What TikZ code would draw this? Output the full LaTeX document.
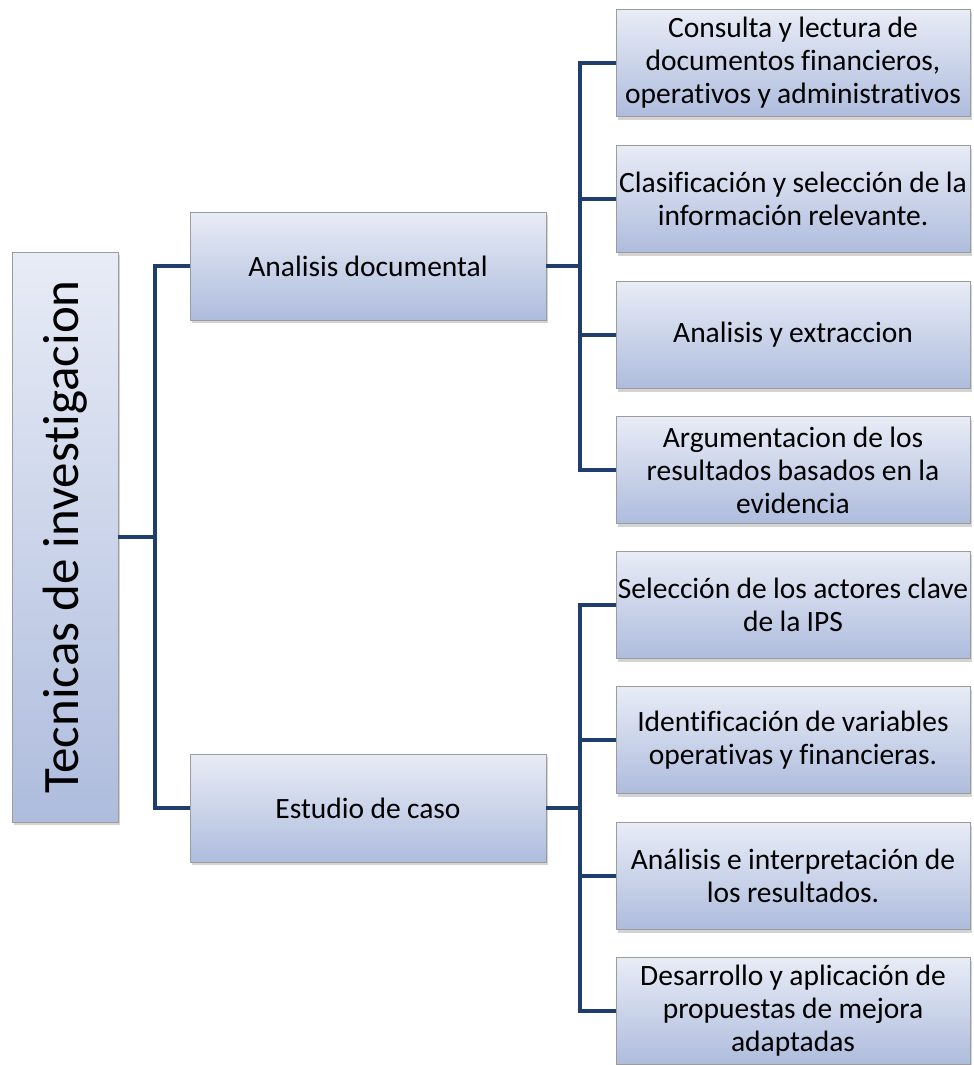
\documentclass[tikz,border=0pt]{standalone}
\usepackage{fontspec}
\setmainfont{Carlito}[Ligatures=NoCommon, WordSpace=0.95]
\usetikzlibrary{positioning,shadows}
\definecolor{boxtop}{HTML}{E8ECF6}
\definecolor{boxbot}{HTML}{AEBCDD}
\definecolor{boxline}{HTML}{9C9C9C}
\definecolor{navy}{HTML}{1F3E6E}
\tikzset{ caja/.style={ rectangle, draw=boxline, thin, top color=boxtop, bottom color=boxbot, drop shadow={shadow xshift=2pt, shadow yshift=-3pt, opacity=0.35}, align=center, inner sep=1pt, font=\fontsize{29.5}{33}\selectfont}, hoja/.style={ caja, minimum width=354pt, minimum height=107pt}, rama/.style={ caja, minimum width=356pt, minimum height=108pt}, enlace/.style={ draw=navy, line width=4pt}}

\begin{document}
\begin{tikzpicture}[x=1pt, y=1pt]
    \useasboundingbox (0,0) rectangle (974,-1065);
    %nodes
    \node[caja, rotate=90, minimum width=570pt, minimum height=106pt,
      font=\fontsize{51}{60}\selectfont] (tecnicas) at (65,-537) {Tecnicas de investigacion};
    \node[rama] (analisis) at (368,-266) {Analisis documental};
    \node[rama] (estudio) at (368,-808) {Estudio de caso};
    % leaves of the first branch
    \node[hoja] (consulta) at (793,-63) {Consulta y lectura de\\documentos financieros,\\operativos y administrativos};
    \node[hoja] (clasif) at (793,-199) {Clasificación y selección de la\\información relevante.};
    \node[hoja] (extrac) at (793,-335) {Analisis y extraccion};
    \node[hoja] (argum) at (793,-470) {Argumentacion de los\\resultados basados en la\\evidencia};
    % leaves of the second branch
    \node[hoja] (actores) at (793,-605) {Selección de los actores clave\\de la IPS};
    \node[hoja] (variables) at (793,-740) {Identificación de variables\\operativas y financieras.};
    \node[hoja] (interp) at (793,-876) {Análisis e interpretación de\\los resultados.};
    \node[hoja] (propuestas) at (793,-1011) {Desarrollo y aplicación de\\propuestas de mejora\\adaptadas};
    % connectors
    \coordinate (j0) at (155,-537);
    \draw[enlace] (tecnicas.south) -- (j0);
    \draw[enlace] (analisis.west) -| (j0) |- (estudio.west);
    \draw[enlace] (analisis.east) -- ++(34,0) coordinate (j1);
    \foreach \h in {consulta,clasif,extrac,argum}
      \draw[enlace] (j1) |- (\h.west);
    \draw[enlace] (estudio.east) -- ++(34,0) coordinate (j2);
    \foreach \h in {actores,variables,interp,propuestas}
      \draw[enlace] (j2) |- (\h.west);
\end{tikzpicture}
\end{document}
